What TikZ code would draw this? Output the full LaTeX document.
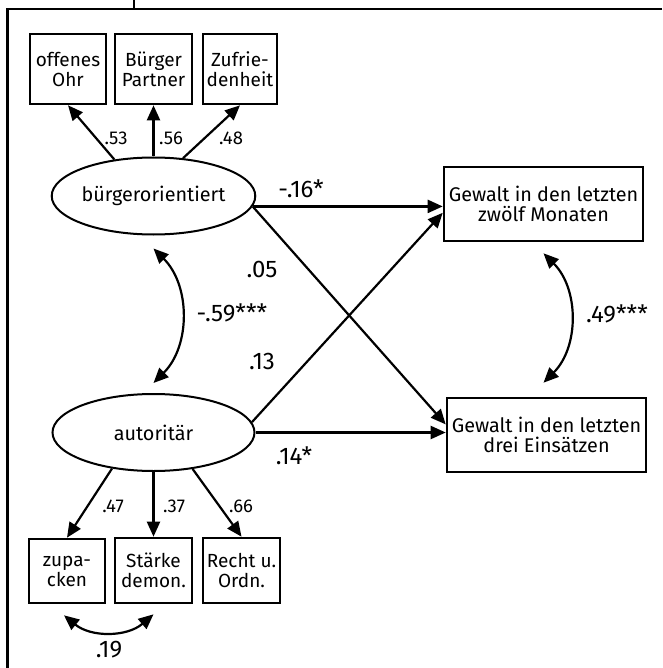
\documentclass[tikz,border=0pt]{standalone}
\usepackage{fontspec}
\setmainfont{Fira Sans}
\usetikzlibrary{arrows.meta, shapes.geometric}

\begin{document}
\begin{tikzpicture}[x=1pt, y=-1pt,
		box/.style={draw, line width=2.6pt, align=center, inner sep=0pt,
			font=\fontsize{19}{20}\selectfont},
		wide/.style={box, minimum width=199pt, minimum height=74pt,
			font=\fontsize{19.8}{20.5}\selectfont},
		factor/.style={ellipse, draw, line width=2pt, inner sep=0pt, minimum width=202pt,
			minimum height=77pt, font=\fontsize{19.8}{22}\selectfont},
		arr/.style={line width=2.2pt, -{Triangle[length=15pt, width=13pt]}},
		dbl/.style={line width=2.2pt, {Triangle[length=15pt, width=13pt]}-{Triangle[length=15pt, width=13pt]}},
		coef/.style={inner sep=0pt, font=\fontsize{18.5}{19}\selectfont},
		bigcoef/.style={inner sep=0pt, font=\fontsize{24}{24}\selectfont}]
			\useasboundingbox (0,0) rectangle (662,668);
			% Frame
			\draw[line width=2.4pt] (134,0) -- (134,9);
			\draw[line width=2.4pt] (662,9) -- (7.5,9) -- (7.5,668);
			% Latent factors
			\node[factor] (buerger) at (153.5,196) {bürgerorientiert};
			\node[factor] (autor) at (153.5,432.5) {autoritär};
			% Indicators
			\node[box, minimum width=76pt, minimum height=70pt] (ohr) at (68,69) {offenes\\Ohr};
			\node[box, minimum width=77pt, minimum height=70pt] (partner) at (153.5,69) {Bürger\\Partner};
			\node[box, minimum width=74pt, minimum height=70pt] (zufr) at (240,69) {Zufrie-\\denheit};
			\node[box, minimum width=76pt, minimum height=64pt] (zupa) at (67,571) {zupa-\\cken};
			\node[box, minimum width=77pt, minimum height=65pt] (staerke) at (153.5,570.5) {Stärke\\demon.};
			\node[box, minimum width=77pt, minimum height=65pt] (recht) at (241.5,570.5) {Recht u.\\Ordn.};
			% Outcomes
			\node[wide] (zwoelf) at (543.5,204) {Gewalt in den letzten\\zwölf Monaten};
			\node[wide] (drei) at (546.5,435) {Gewalt in den letzten\\drei Einsätzen};
			% Loadings
			\draw[arr] (buerger.137) -- (ohr.south);
			\draw[arr] (buerger.north) -- (partner.south);
			\draw[arr] (buerger.52) -- (zufr.south);
			\draw[arr] (autor.221) -- (zupa.north);
			\draw[arr] (autor.south) -- (staerke.north);
			\draw[arr] (autor.317) -- (recht.north);
			\node[coef] at (116,138) {.53};
			\node[coef] at (171,138) {.56};
			\node[coef] at (231,138) {.48};
			\node[coef] at (113,506) {.47};
			\node[coef] at (174,506) {.37};
			\node[coef] at (241,506) {.66};
			% Paths
			\draw[arr] (buerger.-6) -- (buerger.-6 -| zwoelf.west);
			\draw[arr] (buerger.-6) -- (drei.174);
			\draw[arr] (autor.6) -- (zwoelf.185);
			\draw[arr] (autor.east) -- (autor.east -| drei.west);
			\node[bigcoef] at (301,189) {-.16*};
			\node[bigcoef] at (262,269) {.05};
			\node[bigcoef] at (262,361) {.13};
			\node[bigcoef] at (294,456) {.14*};
			% Correlations
			\draw[dbl] ([yshift=-13pt]buerger.south) to[bend left=45] ([yshift=10pt]autor.north);
			\draw[dbl] ([yshift=-11pt]zwoelf.south) to[bend left=45] ([xshift=-3pt, yshift=14pt]drei.north);
			\draw[dbl] ([xshift=-3pt, yshift=-11pt]zupa.south) to[bend right=40] ([yshift=-10pt]staerke.south);
			\node[bigcoef] at (232,313) {-.59***};
			\node[bigcoef] at (617,314) {.49***};
			\node[bigcoef] at (109,650) {.19};
		\end{tikzpicture}
\end{document}
